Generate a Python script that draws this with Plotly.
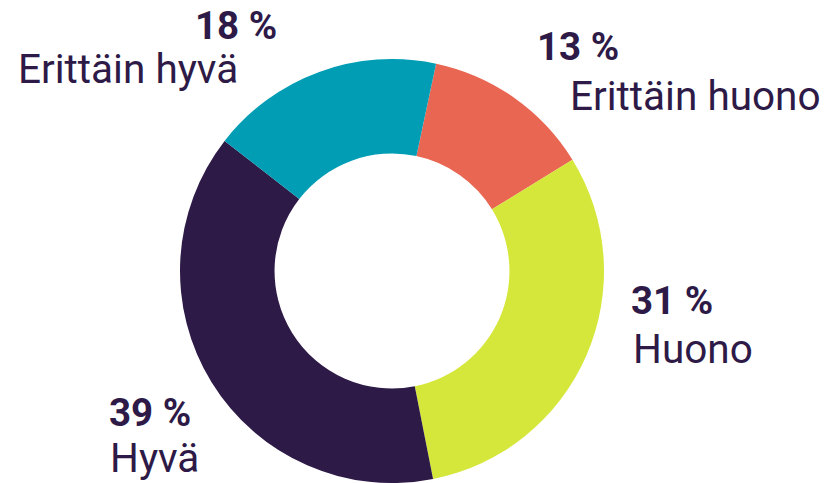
import plotly.graph_objects as go

# Data
labels = ["Erittäin huono", "Huono", "Hyvä", "Erittäin hyvä"]
values = [13, 31, 39, 18]
colors = ["#e96652", "#d5e73a", "#2e1a47", "#009db5"]

W, H = 836, 483
TXT = "#2e1a47"

# label layout (pixel anchors: number x, anchor, number y-center; label x, anchor, label y-center)
num_pos = [(535, "left", 46), (629, "left", 300), (107, "left", 412), (279, "right", 26)]
lab_pos = [(568, "left", 96), (631, "left", 349), (108, "left", 458), (16, "left", 69)]

cx, cy, r = 392, 271, 212
fig = go.Figure(go.Pie(
    labels=labels, values=values, sort=False, direction="clockwise",
    rotation=12, hole=0.554, textinfo="none", hoverinfo="label+value",
    marker=dict(colors=colors, line=dict(width=0)),
    domain=dict(x=[(cx - r) / W, (cx + r) / W], y=[(H - cy - r) / H, (H - cy + r) / H]),
    showlegend=False,
))

ann = []
for v, lab, (nx, nanc, ny), (lx, lanc, ly) in zip(values, labels, num_pos, lab_pos):
    ann.append(dict(text=f"<b>{v} %</b>", x=nx / W, y=1 - ny / H, xref="paper", yref="paper",
                    xanchor=nanc, yanchor="middle", showarrow=False,
                    font=dict(family="Roboto", size=38.5, color=TXT)))
    ann.append(dict(text=lab, x=lx / W, y=1 - ly / H, xref="paper", yref="paper",
                    xanchor=lanc, yanchor="middle", showarrow=False,
                    font=dict(family="Roboto", size=40.5, color=TXT)))

fig.update_layout(width=W, height=H, margin=dict(l=0, r=0, t=0, b=0),
                  paper_bgcolor="white", plot_bgcolor="white", annotations=ann)
fig.write_html("out.html", config={"displayModeBar": False},
               post_script="document.body.style.margin='0';")
